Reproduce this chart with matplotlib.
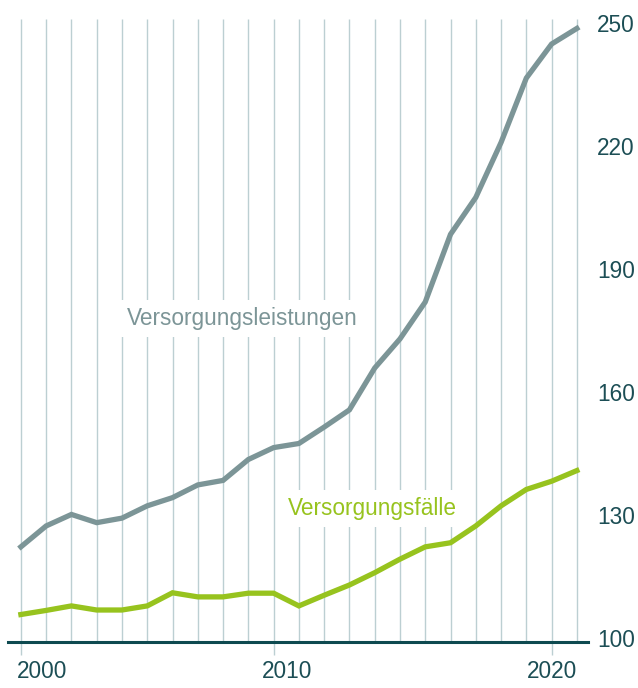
import numpy as np
import matplotlib
matplotlib.use("Agg")
import matplotlib.pyplot as plt
from matplotlib.transforms import ScaledTranslation

plt.rcParams['font.family'] = ['Liberation Sans', 'DejaVu Sans']

# ---- data (index values) ----
years = list(range(2000, 2023))
leistungen = [123.2, 128.3, 131.1, 129.1, 130.2, 133.2, 135.2, 138.3, 139.4, 144.5,
              147.4, 148.4, 152.4, 156.6, 166.8, 173.9, 182.9, 199.4, 208.4, 221.8,
              237.5, 245.8, 249.6]
faelle = [106.7, 107.7, 108.8, 107.8, 107.8, 108.8, 112.0, 111.0, 111.0, 111.9,
          111.9, 108.8, 111.4, 113.9, 116.9, 120.2, 123.2, 124.2, 128.3, 133.2,
          137.2, 139.2, 141.8]
yticks = [100, 130, 160, 190, 220, 250]
xtick_labels = ['2000', '2010', '2020']
xtick_pos = [2000.85, 2010.55, 2021.0]
major_years = [2000, 2010, 2021]
label_leist = 'Versorgungsleistungen'
label_faelle = 'Versorgungsfälle'

# ---- styling ----
C_GRAY = '#7c9597'
C_GREEN = '#97c31e'
C_TEXT = '#1c4e55'
C_BASE = '#0e4a50'
C_GRID = '#bccfd2'
FS = 16.3

fig = plt.figure(figsize=(6.38, 6.88), dpi=100)
ax = fig.add_axes([8/638, (688-642)/688, (588-8)/638, (642-19)/688])
ax.set_xlim(1999.49, 2022.44)
ax.set_ylim(100, 251.9)

for s in ax.spines.values():
    s.set_visible(False)

# vertical grid lines
ax.vlines(years, 100, 251.9, colors=C_GRID, linewidth=1.0, zorder=1)
# longer ticks below baseline
ax.vlines(major_years, 96.9, 100, colors=C_GRID, linewidth=1.0, zorder=1, clip_on=False)
# baseline
ax.axhline(100, color=C_BASE, linewidth=2.2, zorder=4, clip_on=False)

ax.plot(years, leistungen, color=C_GRAY, linewidth=3.8, solid_joinstyle='miter', zorder=5)
ax.plot(years, faelle, color=C_GREEN, linewidth=3.8, solid_joinstyle='miter', zorder=5)

ax.text(2008.78, 178.9, label_leist, color=C_GRAY, fontsize=FS, ha='center', va='center',
        zorder=3, bbox=dict(facecolor='white', edgecolor='none', pad=5))
ax.text(2013.89, 132.6, label_faelle, color=C_GREEN, fontsize=FS, ha='center', va='center',
        zorder=3, bbox=dict(facecolor='white', edgecolor='none', pad=5))

ax.yaxis.tick_right()
ax.set_yticks(yticks)
ax.set_yticklabels([str(v) for v in yticks])
ax.tick_params(axis='y', length=0, pad=6.5, labelsize=FS, labelcolor=C_TEXT)
for lab in ax.get_yticklabels():
    lab.set_transform(lab.get_transform() + ScaledTranslation(0, 4/100, fig.dpi_scale_trans))

ax.set_xticks(xtick_pos)
ax.set_xticklabels(xtick_labels)
ax.tick_params(axis='x', length=0, pad=13, labelsize=FS, labelcolor=C_TEXT)

fig.savefig('out.png', dpi=100, facecolor='white')
